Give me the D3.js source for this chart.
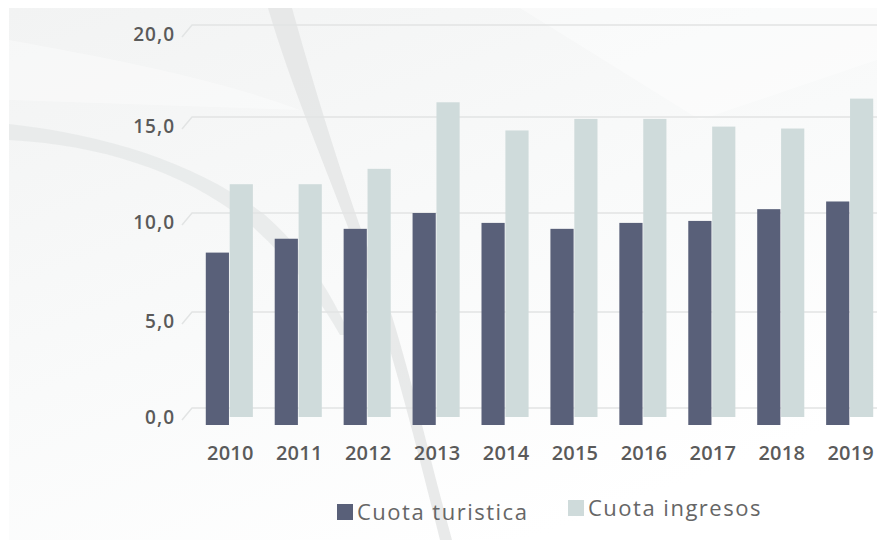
<!DOCTYPE html>
<html lang="es">
<head>
    <meta charset="UTF-8">
    <title>Cuota turistica / Cuota ingresos</title>
    <script src="https://d3js.org/d3.v7.min.js"></script>
    <style>
        body { margin: 0; background: #fff; }
        svg { display: block; font-family: "Open Sans", "Noto Sans", sans-serif; }
    </style>
</head>
<body>
<svg id="chart" width="877" height="540"></svg>
<script>
    // data
    const years = ["2010", "2011", "2012", "2013", "2014", "2015", "2016", "2017", "2018", "2019"];
    const cuotaTuristica = [8.0, 8.7, 9.2, 10.0, 9.5, 9.2, 9.5, 9.6, 10.2, 10.6];
    const cuotaIngresos = [11.5, 11.5, 12.3, 15.8, 14.3, 14.9, 14.9, 14.5, 14.4, 16.0];
    const yTicks = [0, 5, 10, 15, 20];
    const seriesNames = ["Cuota turistica", "Cuota ingresos"];

    const colors = { "Cuota turistica": "#596079", "Cuota ingresos": "#cfdbdb" };
    // how far each series' front face drops below the 0 wall line (fake 3D)
    const drop = { "Cuota turistica": 17, "Cuota ingresos": 9 };

    const W = 877, H = 540;
    const svg = d3.select("#chart");

    // background
    const defs = svg.append("defs");
    const grad = defs.append("linearGradient").attr("id", "bg")
        .attr("x1", "0").attr("y1", "0").attr("x2", "0.6").attr("y2", "1");
    grad.append("stop").attr("offset", "0").attr("stop-color", "#f2f3f3");
    grad.append("stop").attr("offset", "0.55").attr("stop-color", "#f9fafa");
    grad.append("stop").attr("offset", "1").attr("stop-color", "#ffffff");

    svg.append("rect").attr("width", W).attr("height", H).attr("fill", "#fff");
    svg.append("rect").attr("x", 9).attr("y", 8).attr("width", W - 9).attr("height", H - 8)
        .attr("fill", "url(#bg)");

    // faint lighter facets at the top
    svg.append("path")
        .attr("d", "M520,8 L877,8 L877,60 L700,120 Z")
        .attr("fill", "#ffffff").attr("opacity", 0.4);
    svg.append("path")
        .attr("d", "M9,40 C120,60 220,80 300,110 L9,100 Z")
        .attr("fill", "#ffffff").attr("opacity", 0.35);

    // swooshes
    svg.append("path")
        .attr("d", "M268,8 L292,8 C315,90 345,190 380,280 C405,350 425,440 452,540 L440,540 C420,460 400,380 375,300 C340,200 295,100 268,8 Z")
        .attr("fill", "#e3e5e5").attr("opacity", 0.8);
    svg.append("path")
        .attr("d", "M9,124 C110,135 200,165 265,215 C300,245 330,290 350,335 L340,335 C315,290 280,250 245,220 C180,170 100,145 9,140 Z")
        .attr("fill", "#e6e8e8").attr("opacity", 0.8);

    // scales
    const x0 = d3.scaleBand().domain(years).range([192, 887])
        .paddingInner(0.317).paddingOuter(0.2);
    const x1 = d3.scaleBand().domain(seriesNames).range([0, x0.bandwidth()]).paddingInner(0.03);
    const y = d3.scaleLinear().domain(yTicks).range([408, 312, 213, 117, 25]);

    // grid lines with the short slanted floor edge on the left
    const grid = svg.append("g");
    yTicks.forEach(t => {
        grid.append("path")
            .attr("d", `M182,${y(t) + 12} L192,${y(t)} L${W},${y(t)}`)
            .attr("fill", "none").attr("stroke", "#e2e4e4").attr("stroke-width", 1.5);
    });

    // y labels
    const yAxis = d3.axisLeft(y).tickValues(yTicks)
        .tickFormat(d => d.toFixed(1).replace(".", ","))
        .tickSize(0).tickPadding(0);
    const gy = svg.append("g").attr("transform", "translate(175,0)").call(yAxis);
    gy.select(".domain").remove();
    gy.selectAll("text")
        .attr("dy", 15).attr("x", 0)
        .attr("fill", "#5a5a5a").style("font-size", "19px").style("font-weight", 600)
        .style("letter-spacing", "1px")
        .style("font-family", "'Open Sans', sans-serif");

    // bars
    const rows = years.map((yr, i) => ({
        year: yr,
        vals: [
            { name: seriesNames[0], v: cuotaTuristica[i] },
            { name: seriesNames[1], v: cuotaIngresos[i] }
        ]
    }));
    const groups = svg.append("g").selectAll("g").data(rows).join("g")
        .attr("transform", d => `translate(${x0(d.year)},0)`);
    groups.selectAll("rect").data(d => d.vals).join("rect")
        .attr("x", d => x1(d.name))
        .attr("y", d => y(d.v))
        .attr("width", x1.bandwidth())
        .attr("height", d => y(0) + drop[d.name] - y(d.v))
        .attr("fill", d => colors[d.name]);

    // x labels
    const xAxis = d3.axisBottom(x0).tickSize(0).tickPadding(0);
    const gx = svg.append("g").attr("transform", "translate(1,460)").call(xAxis);
    gx.select(".domain").remove();
    gx.selectAll("text")
        .attr("y", 0).attr("dy", 0)
        .attr("fill", "#5a5a5a").style("font-size", "20px").style("font-weight", 600)
        .style("letter-spacing", "0.2px")
        .style("font-family", "'Open Sans', sans-serif");

    // legend
    const legendPos = [{ x: 337, y: 504 }, { x: 568, y: 500 }];
    const legend = svg.append("g").selectAll("g").data(seriesNames).join("g")
        .attr("transform", (d, i) => `translate(${legendPos[i].x},${legendPos[i].y})`);
    legend.append("rect")
        .attr("width", 16).attr("height", 16)
        .attr("fill", d => colors[d]);
    legend.append("text")
        .attr("x", 20).attr("y", 16)
        .attr("fill", "#666")
        .style("font-size", "22px").style("letter-spacing", "1.5px")
        .text(d => d);
</script>
</body>
</html>
